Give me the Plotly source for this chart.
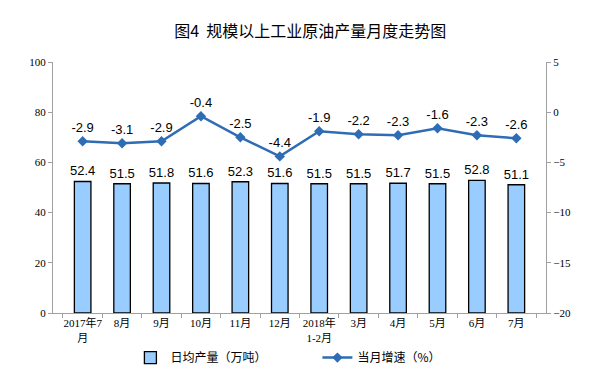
import plotly.graph_objects as go

categories = ["2017年7<br>月", "8月", "9月", "10月", "11月", "12月", "2018年<br>1-2月",
              "3月", "4月", "5月", "6月", "7月"]
daily_output = [52.4, 51.5, 51.8, 51.6, 52.3, 51.6, 51.5, 51.5, 51.7, 51.5, 52.8, 51.1]
growth = [-2.9, -3.1, -2.9, -0.4, -2.5, -4.4, -1.9, -2.2, -2.3, -1.6, -2.3, -2.6]

label_font = dict(family="Liberation Sans, Arial", size=13, color="#000000")
tick_font = dict(family="Liberation Serif, Noto Sans CJK SC, serif", size=11, color="#000000")

fig = go.Figure()
fig.add_trace(go.Bar(
    x=categories, y=daily_output, name="日均产量（万吨）",
    marker=dict(color="#99CCFF", line=dict(color="#000000", width=1.3)),
    width=0.42,
    text=[f"{v:.1f}" for v in daily_output], textposition="outside",
    textfont=label_font, cliponaxis=False, constraintext="none",
))
fig.add_trace(go.Scatter(
    x=categories, y=growth, name="当月增速（%）", yaxis="y2",
    mode="lines+markers+text",
    line=dict(color="#2E6DB4", width=2.5),
    marker=dict(symbol="diamond", size=8, color="#2E6DB4"),
    text=[f"{v:.1f}" for v in growth], textposition="top center",
    textfont=label_font, cliponaxis=False,
))

fig.update_layout(
    width=607, height=374,
    margin=dict(l=53, r=61, t=62, b=61, autoexpand=False),
    plot_bgcolor="#FFFFFF", paper_bgcolor="#FFFFFF",
    title=dict(text="图4  规模以上工业原油产量月度走势图", x=0.511, xanchor="center",
               y=0.915, yanchor="middle",
               font=dict(family="Noto Sans CJK SC", size=16, color="#000000")),
    xaxis=dict(
        type="category", showline=True, linecolor="#A0A0A0", linewidth=1,
        tickson="boundaries", ticks="outside", ticklen=4, tickcolor="#A0A0A0",
        tickfont=dict(family="Liberation Serif, Noto Sans CJK SC", size=11, color="#000000"),
        showgrid=False, tickangle=0, automargin=False,
    ),
    yaxis=dict(
        range=[0, 100], dtick=20, showline=True, linecolor="#A0A0A0", linewidth=1,
        ticks="outside", ticklen=4, tickcolor="#A0A0A0", showgrid=False,
        tickfont=tick_font, zeroline=False, automargin=False,
    ),
    yaxis2=dict(
        range=[-20, 5], dtick=5, overlaying="y", side="right",
        showline=True, linecolor="#A0A0A0", linewidth=1,
        ticks="outside", ticklen=4, tickcolor="#A0A0A0", showgrid=False,
        tickfont=tick_font, zeroline=False, automargin=False,
    ),
    legend=dict(orientation="h", x=0.157, xanchor="left", y=-0.12, yanchor="top",
                font=dict(family="Noto Sans CJK SC", size=12, color="#000000"),
                entrywidth=142, entrywidthmode="pixels", itemwidth=30),
    showlegend=True,
    bargap=0.5,
)

fig.write_html("out.html", config={"displayModeBar": False},
               post_script="document.body.style.margin='0';document.body.style.overflow='hidden';")
